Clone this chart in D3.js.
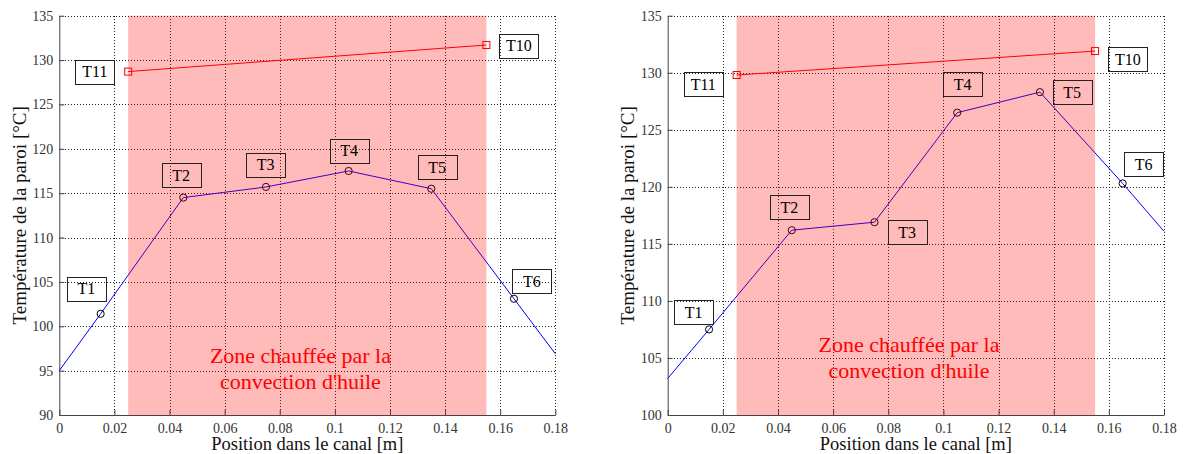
<!DOCTYPE html>
<html>
<head>
<meta charset="utf-8">
<script src="https://cdn.jsdelivr.net/npm/d3@7/dist/d3.min.js"></script>
<style>
  html, body { margin: 0; padding: 0; background: #fff; }
  svg { display: block; }
  svg text { font-family: "Liberation Serif", "DejaVu Serif", "Noto Serif", serif; }
</style>
</head>
<body>
<script>
// ---------- data ----------
const lineX = [0, 0.015, 0.045, 0.075, 0.105, 0.135, 0.165, 0.18];
const sensorNames = ["", "T1", "T2", "T3", "T4", "T5", "T6", ""];
const tempLeft = [95.0, 101.4, 114.5, 115.7, 117.5, 115.5, 103.1, 96.9];
const tempRight = [103.2, 107.5, 116.2, 116.9, 126.5, 128.3, 120.3, 116.1];

const wallX = [0.025, 0.155];
const wallNames = ["T11", "T10"];
const wallLeft = [128.7, 131.7];
const wallRight = [129.8, 131.9];

// annotation anchors (data units) for the boxed labels
const labelNames = ["T1", "T2", "T3", "T4", "T5", "T6", "T11", "T10"];
const labelLeftX = [0.0098, 0.0442, 0.0749, 0.1052, 0.1371, 0.1715, 0.0129, 0.1668];
const labelLeftY = [104.2, 117.0, 118.2, 119.8, 117.9, 105.1, 128.7, 131.6];
const labelRightX = [0.0094, 0.0441, 0.0868, 0.1070, 0.1467, 0.1726, 0.0129, 0.1669];
const labelRightY = [109.0, 118.2, 116.0, 129.0, 128.3, 122.0, 129.0, 131.2];

const zoneStart = 0.025, zoneEnd = 0.155;
const zoneText = ["Zone chauffée par la", "convection d'huile"];
const zoneTextX = 0.0875;
const zoneTextYLeft = 96.6, zoneTextYRight = 106.1;

const xTicks = [0, 0.02, 0.04, 0.06, 0.08, 0.1, 0.12, 0.14, 0.16, 0.18];
const yTicksLeft = [90, 95, 100, 105, 110, 115, 120, 125, 130, 135];
const yTicksRight = [100, 105, 110, 115, 120, 125, 130, 135];
const xTitle = "Position dans le canal [m]";
const yTitle = "Température de la paroi [°C]";

// ---------- drawing ----------
const W = 1183, H = 454;
const svg = d3.select("body").append("svg").attr("width", W).attr("height", H);

function panel(cfg) {
  const x = d3.scaleLinear().domain([0, 0.18]).range([cfg.x0, cfg.x1]);
  const y = d3.scaleLinear().domain(cfg.yDomain).range([cfg.y1, cfg.y0]);
  const g = svg.append("g");

  // grid
  const grid = g.append("g").attr("stroke", "#222").attr("stroke-width", 1)
    .attr("stroke-dasharray", "1,2").attr("shape-rendering", "crispEdges");
  grid.selectAll("line.gx").data(xTicks.filter(d => d > 0)).join("line")
    .attr("x1", d => Math.round(x(d)) + 0.5).attr("x2", d => Math.round(x(d)) + 0.5)
    .attr("y1", y.range()[1]).attr("y2", y.range()[0]);
  grid.selectAll("line.gy").data(cfg.yTicks.filter(d => d > cfg.yDomain[0])).join("line")
    .attr("y1", d => Math.round(y(d)) + 0.5).attr("y2", d => Math.round(y(d)) + 0.5)
    .attr("x1", x.range()[0]).attr("x2", x.range()[1]);

  // axes
  const fmt = d => String(+d.toFixed(2));
  const xAxis = g.append("g").attr("transform", `translate(0,${y.range()[0]})`)
    .call(d3.axisBottom(x).tickValues(xTicks).tickFormat(fmt).tickSizeInner(-5).tickSizeOuter(0).tickPadding(8));
  const yAxis = g.append("g").attr("transform", `translate(${x.range()[0]},0)`)
    .call(d3.axisLeft(y).tickValues(cfg.yTicks).tickFormat(fmt).tickSizeInner(-5).tickSizeOuter(0).tickPadding(6));
  [xAxis, yAxis].forEach(a => {
    a.select(".domain").attr("stroke", "#444");
    a.selectAll(".tick line").attr("stroke", "#444");
    a.selectAll(".tick text").attr("fill", "#333").attr("font-family", null).attr("font-size", 14);
  });
  a0 = xAxis.selectAll(".tick text").attr("dy", "0.71em");

  // sensor line
  const pts = lineX.map((d, i) => [d, cfg.temps[i]]);
  const line = d3.line().x(d => x(d[0])).y(d => y(d[1]));
  g.append("path").datum(pts).attr("d", line).attr("fill", "none")
    .attr("stroke", "#0000ff").attr("stroke-width", 1);
  g.selectAll("circle.s").data(pts.filter((d, i) => sensorNames[i] !== "")).join("circle")
    .attr("cx", d => x(d[0])).attr("cy", d => y(d[1])).attr("r", 3.6)
    .attr("fill", "none").attr("stroke", "#000").attr("stroke-width", 1);

  // wall line
  const wpts = wallX.map((d, i) => [d, cfg.wall[i]]);
  g.append("path").datum(wpts).attr("d", line).attr("fill", "none")
    .attr("stroke", "#ff0000").attr("stroke-width", 1);
  g.selectAll("rect.w").data(wpts).join("rect")
    .attr("x", d => x(d[0]) - 3.5).attr("y", d => y(d[1]) - 3.5)
    .attr("width", 7).attr("height", 7)
    .attr("fill", "none").attr("stroke", "#ff0000").attr("stroke-width", 1);

  // heated zone overlay
  g.append("rect")
    .attr("x", x(zoneStart)).attr("y", y.range()[1])
    .attr("width", x(zoneEnd) - x(zoneStart)).attr("height", y.range()[0] - y.range()[1])
    .attr("fill", "#ff0000").attr("fill-opacity", 0.27);

  // zone text
  const zt = g.append("text").attr("font-size", 22)
    .attr("fill", "#ff0000").attr("text-anchor", "middle");
  zoneText.forEach((t, i) => {
    zt.append("tspan").attr("x", x(zoneTextX))
      .attr("y", y(cfg.zoneY) + 7 + i * 26).text(t);
  });

  // boxed labels
  labelNames.forEach((name, i) => {
    const cx = x(cfg.labX[i]), cy = y(cfg.labY[i]);
    g.append("rect").attr("x", Math.round(cx - 19.5) + 0.5).attr("y", Math.round(cy - 12) + 0.5)
      .attr("width", 39).attr("height", 24)
      .attr("fill", "none").attr("stroke", "#222").attr("stroke-width", 1);
    g.append("text").attr("x", cx).attr("y", cy + 5.5)
      .attr("text-anchor", "middle").attr("font-size", 16)
      .attr("fill", "#000").text(name);
  });

  // axis titles
  g.append("text").attr("x", (x.range()[0] + x.range()[1]) / 2).attr("y", 450)
    .attr("text-anchor", "middle").attr("font-size", 18.5)
    .attr("fill", "#111").text(xTitle);
  g.append("text")
    .attr("transform", `translate(${cfg.yTitleX},${(y.range()[0] + y.range()[1]) / 2}) rotate(-90)`)
    .attr("text-anchor", "middle").attr("font-size", 19)
    .attr("fill", "#111").text(yTitle);
}

panel({
  x0: 59.3, x1: 555.3, y0: 15.7, y1: 415,
  yDomain: [90, 135], yTicks: yTicksLeft,
  temps: tempLeft, wall: wallLeft,
  labX: labelLeftX, labY: labelLeftY,
  zoneY: zoneTextYLeft, yTitleX: 26
});
panel({
  x0: 667.7, x1: 1164, y0: 15.7, y1: 415,
  yDomain: [100, 135], yTicks: yTicksRight,
  temps: tempRight, wall: wallRight,
  labX: labelRightX, labY: labelRightY,
  zoneY: zoneTextYRight, yTitleX: 634
});
</script>
</body>
</html>
